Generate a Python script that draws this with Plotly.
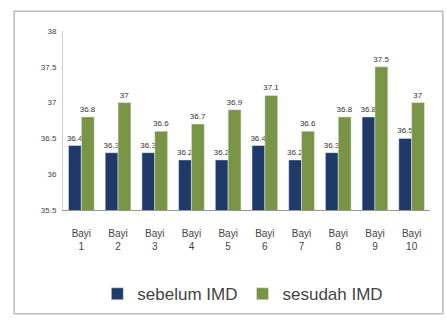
import plotly.graph_objects as go

categories = ["Bayi<br>1", "Bayi<br>2", "Bayi<br>3", "Bayi<br>4", "Bayi<br>5",
              "Bayi<br>6", "Bayi<br>7", "Bayi<br>8", "Bayi<br>9", "Bayi<br>10"]
sebelum = [36.4, 36.3, 36.3, 36.2, 36.2, 36.4, 36.2, 36.3, 36.8, 36.5]
sesudah = [36.8, 37.0, 36.6, 36.7, 36.9, 37.1, 36.6, 36.8, 37.5, 37.0]
tick_vals = [35.5, 36, 36.5, 37, 37.5, 38]
tick_text = ["35.5", "36", "36.5", "37", "37.5", "38"]

fig = go.Figure()
fig.add_trace(go.Bar(x=categories, y=sebelum, name="sebelum IMD",
                     marker=dict(color="#1f3a68"),
                     text=[f"{v:g}" for v in sebelum], textposition="outside",
                     textfont=dict(size=8, color="#333"), cliponaxis=False))
fig.add_trace(go.Bar(x=categories, y=sesudah, name="sesudah IMD",
                     marker=dict(color="#7a9445"),
                     text=[f"{v:g}" for v in sesudah], textposition="outside",
                     textfont=dict(size=8, color="#333"), cliponaxis=False))

fig.update_layout(
    width=447, height=324,
    margin=dict(l=63, r=17, t=31, b=111),
    paper_bgcolor="white", plot_bgcolor="white",
    barmode="group", bargap=0.3, bargroupgap=0,
    font=dict(family="Liberation Sans, Arial, sans-serif", color="#444"),
    showlegend=True,
    legend=dict(orientation="h", x=0.49, xanchor="center", y=-0.37, yanchor="top",
                font=dict(size=17, color="#444"), itemwidth=30,
                tracegroupgap=0),
    uniformtext=dict(minsize=7, mode="show"),
    shapes=[dict(type="rect", xref="paper", yref="paper",
                 x0=-0.133, x1=1.035, y0=-0.58, y1=1.11,
                 line=dict(color="#bbbbbb", width=1.5))],
)
fig.update_xaxes(showline=True, linecolor="#999", linewidth=1, ticks="",
                 ticklabelstandoff=14,
                 tickfont=dict(size=10, color="#444"))
fig.update_yaxes(range=[35.5, 38], tickvals=tick_vals, ticktext=tick_text,
                 showgrid=False, showline=True, linecolor="#ccc", linewidth=1,
                 ticks="outside", ticklen=4, tickcolor="white",
                 tickfont=dict(size=8, color="#444"), zeroline=False)

fig.write_html("out.html")
